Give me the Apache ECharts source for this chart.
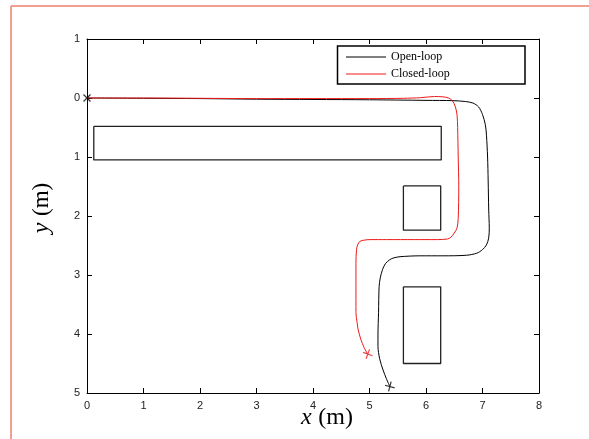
<!DOCTYPE html>
<html>
<head>
<meta charset="utf-8">
<script src="https://cdn.jsdelivr.net/npm/echarts@6/dist/echarts.min.js"></script>
<style>html,body{margin:0;padding:0;background:#fff;}#c{width:589px;height:439px;}</style>
</head>
<body>
<div id="c"></div>
<script>
// ---- data ----
const seriesNames = ['Open-loop', 'Closed-loop'];
const openLoop = [[0,0],[1,0.005],[2,0.01],[3,0.02],[4,0.025],[5,0.03],[6,0.04],[6.48,0.045],[6.7,0.06],[6.83,0.085],[6.93,0.15],[7.0,0.28],[7.05,0.45],[7.07,0.63],[7.09,1.0],[7.10,1.39],[7.11,1.9],[7.12,2.2],[7.11,2.37],[7.07,2.49],[7.0,2.57],[6.9,2.63],[6.72,2.665],[6.3,2.675],[5.89,2.675],[5.54,2.69],[5.43,2.71],[5.36,2.74],[5.28,2.81],[5.23,2.91],[5.19,3.05],[5.17,3.2],[5.16,3.64],[5.15,4.0],[5.15,4.21],[5.18,4.42],[5.24,4.61],[5.3,4.76],[5.36,4.89]];
const closedLoop = [[0,0],[1,0.0],[2,0.005],[3,0.01],[4,0.01],[5,0.01],[5.6,0.005],[5.9,-0.005],[6.15,-0.025],[6.3,-0.02],[6.4,0.0],[6.47,0.05],[6.52,0.15],[6.55,0.29],[6.56,0.5],[6.57,1.0],[6.58,1.5],[6.57,2.04],[6.55,2.2],[6.5,2.29],[6.44,2.36],[6.38,2.39],[6.2,2.4],[5.8,2.4],[5.3,2.4],[5.01,2.4],[4.9,2.41],[4.83,2.43],[4.79,2.49],[4.77,2.57],[4.76,2.8],[4.76,3.2],[4.76,3.64],[4.78,3.8],[4.8,3.93],[4.85,4.1],[4.9,4.22],[4.96,4.33]];
const obstacles = [
  [[0.12,0.48],[6.27,0.48],[6.27,1.05],[0.12,1.05],[0.12,0.48]],
  [[5.6,1.49],[6.26,1.49],[6.26,2.24],[5.6,2.24],[5.6,1.49]],
  [[5.6,3.2],[6.26,3.2],[6.26,4.5],[5.6,4.5],[5.6,3.2]]
];
const startPoint = [[0,0]];
const openEnd = [[5.36,4.89]];
const closedEnd = [[4.97,4.34]];
const xMin = 0, xMax = 8, xStep = 1;
const yMin = -1, yMax = 5, yStep = 1;

// ---- chart ----
const chart = echarts.init(document.getElementById('c'), null, {renderer:'canvas'});
const labelFont = {fontFamily:'Liberation Sans', fontSize:11, color:'#222'};
const plusPath = 'path://M5,0L5,10M0,5L10,5';
const crossPath = 'path://M0,0L10,10M10,0L0,10';

const series = [];
obstacles.forEach(function(r){
  series.push({type:'line', data:r, symbol:'none', silent:true,
    lineStyle:{color:'#222', width:1.3}, z:2});
});
series.push({name:seriesNames[0], type:'line', data:openLoop, symbol:'none', smooth:0.3,
  lineStyle:{color:'#000', width:1}, itemStyle:{color:'#000'}, z:3});
series.push({name:seriesNames[1], type:'line', data:closedLoop, symbol:'none', smooth:0.3,
  lineStyle:{color:'#ee1a1a', width:1}, itemStyle:{color:'#ee1a1a'}, z:4});
series.push({type:'scatter', data:startPoint, symbol:crossPath, symbolSize:7, silent:true,
  itemStyle:{color:'none', borderColor:'#000', borderWidth:1.2}, z:5});
series.push({type:'scatter', data:openEnd, symbol:plusPath, symbolSize:10, symbolRotate:-15, silent:true,
  itemStyle:{color:'none', borderColor:'#000', borderWidth:1.2}, z:5});
series.push({type:'scatter', data:closedEnd, symbol:plusPath, symbolSize:10, symbolRotate:-20, silent:true,
  itemStyle:{color:'none', borderColor:'#ee1a1a', borderWidth:1.2}, z:5});

chart.setOption({
  animation:false,
  backgroundColor:'#fff',
  grid:{left:87, right:50, top:39, bottom:46, containLabel:false, outerBoundsMode:'none'},
  xAxis:[{
    type:'value', min:xMin, max:xMax, interval:xStep, position:'bottom',
    axisLine:{show:true, onZero:false, lineStyle:{color:'#000', width:1}},
    axisTick:{show:true, inside:true, length:5, lineStyle:{color:'#000'}},
    axisLabel:Object.assign({margin:7}, labelFont),
    splitLine:{show:false},
    name:'{i|x}  {n|(m)}', nameLocation:'middle', nameGap:13, nameMoveOverlap:false,
    nameTextStyle:{padding:[0,0,0,28], rich:{
      i:{fontFamily:'Liberation Serif', fontStyle:'italic', fontSize:24, color:'#000'},
      n:{fontFamily:'Liberation Serif', fontSize:24, color:'#000'}}}
  },{
    type:'value', min:xMin, max:xMax, interval:xStep, position:'top',
    axisLine:{show:true, onZero:false, lineStyle:{color:'#000', width:1}},
    axisTick:{show:true, inside:true, length:5, lineStyle:{color:'#000'}},
    axisLabel:{show:false}, splitLine:{show:false}
  }],
  yAxis:[{
    type:'value', min:yMin, max:yMax, interval:yStep, inverse:true, position:'left',
    axisLine:{show:true, onZero:false, lineStyle:{color:'#000', width:1}},
    axisTick:{show:true, inside:true, length:5, lineStyle:{color:'#000'}},
    axisLabel:Object.assign({margin:7, formatter:function(v){return String(Math.abs(v));}}, labelFont),
    splitLine:{show:false},
    name:'{i|y}  {n|(m)}', nameLocation:'middle', nameGap:33, nameRotate:90, nameMoveOverlap:false,
    nameTextStyle:{padding:[0,0,0,16], rich:{
      i:{fontFamily:'Liberation Serif', fontStyle:'italic', fontSize:24, color:'#000'},
      n:{fontFamily:'Liberation Serif', fontSize:23, color:'#000'}}}
  },{
    type:'value', min:yMin, max:yMax, interval:yStep, inverse:true, position:'right',
    axisLine:{show:true, onZero:false, lineStyle:{color:'#000', width:1}},
    axisTick:{show:true, inside:true, length:5, lineStyle:{color:'#000'}},
    axisLabel:{show:false}, splitLine:{show:false}
  }],
  legend:{
    data:seriesNames, orient:'vertical', left:346, top:51, padding:0,
    itemWidth:40, itemHeight:1, itemGap:5, icon:'rect',
    textStyle:{fontFamily:'Liberation Serif', fontSize:12, color:'#000', lineHeight:12},
    selectedMode:false
  },
  graphic:[
    {type:'rect', shape:{x:337.5, y:46, width:187.5, height:38}, style:{fill:'none', stroke:'#000', lineWidth:1.5}, z:10, silent:true},
    {type:'line', shape:{x1:11, y1:6, x2:589, y2:6}, style:{stroke:'#f07e6a', lineWidth:1.5}, silent:true},
    {type:'line', shape:{x1:11, y1:6, x2:11, y2:439}, style:{stroke:'#f07e6a', lineWidth:1.5}, silent:true}
  ],
  series:series
});
</script>
</body>
</html>
